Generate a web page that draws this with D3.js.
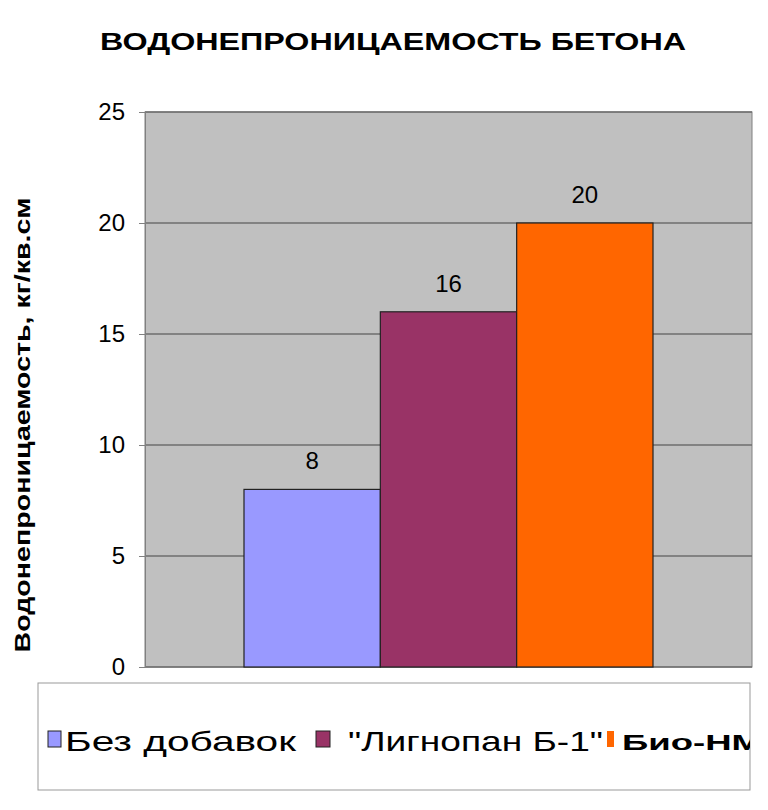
<!DOCTYPE html><html><head><meta charset="utf-8"><script src="https://cdn.jsdelivr.net/npm/d3@7"></script>
<style>body{margin:0;background:#fff}</style></head><body><svg width="768" height="810"></svg>
<script>
const categories=["Без добавок","\"Лигнопан Б-1\"","Био-НМ"];
const values=[8,16,20];
const colors=["#9999ff","#993366","#ff6600"];
const yTicks=[0,5,10,15,20,25];
const svg=d3.select("svg");
const L=145,R=752,T=112,B=667;
const F="Liberation Sans, Arial";
svg.append("text").attr("x",393).attr("y",50).attr("text-anchor","middle").attr("font-family",F).attr("font-weight","bold").attr("font-size",24).attr("textLength",586).attr("lengthAdjust","spacingAndGlyphs").text("ВОДОНЕПРОНИЦАЕМОСТЬ БЕТОНА");
svg.append("rect").attr("x",L).attr("y",T).attr("width",R-L).attr("height",B-T).attr("fill","#c0c0c0").attr("stroke","#808080");
const y=d3.scaleLinear().domain([0,25]).range([B,T]);
const x=d3.scaleBand().domain(categories).range([244,653]);
svg.append("g").selectAll("line").data(yTicks).join("line").attr("x1",L).attr("x2",R).attr("y1",d=>y(d)).attr("y2",d=>y(d)).attr("stroke","#6e6e6e").attr("stroke-width",1.5);
const ax=svg.append("g").attr("transform",`translate(${L},0)`).call(d3.axisLeft(y).tickValues(yTicks).tickSize(6).tickPadding(14));
ax.selectAll("text").attr("font-family",F).attr("font-size",24).attr("fill","#000");
ax.select(".domain").attr("stroke","#808080");ax.selectAll(".tick line").attr("stroke","#808080");
svg.append("g").selectAll("rect").data(values).join("rect").attr("x",(d,i)=>x(categories[i])).attr("width",x.bandwidth()).attr("y",d=>y(d)).attr("height",d=>B-y(d)).attr("fill",(d,i)=>colors[i]).attr("stroke","#222").attr("stroke-width",1.2);
svg.append("g").selectAll("text").data(values).join("text").attr("x",(d,i)=>x(categories[i])+x.bandwidth()/2).attr("y",d=>y(d)-20).attr("text-anchor","middle").attr("font-family",F).attr("font-size",24).text(d=>d);
svg.append("text").attr("transform","translate(30,425) rotate(-90)").attr("text-anchor","middle").attr("font-family",F).attr("font-weight","bold").attr("font-size",22).attr("textLength",455).attr("lengthAdjust","spacingAndGlyphs").text("Водонепроницаемость, кг/кв.см");
const lg=svg.append("g");
lg.append("rect").attr("x",38).attr("y",683).attr("width",712).attr("height",107).attr("fill","#fff").attr("stroke","#999");
svg.append("clipPath").attr("id","c").append("rect").attr("x",38).attr("y",683).attr("width",712).attr("height",107);
const lx=[48,316,607],tx=[65,348,622],sw=[13,14,7],tl=[231,255,140];
categories.forEach((c,i)=>{
 lg.append("rect").attr("x",lx[i]).attr("y",731).attr("width",sw[i]).attr("height",16).attr("fill",colors[i]).attr("stroke",i<2?"#222":"none");
 lg.append("text").attr("clip-path","url(#c)").attr("x",tx[i]).attr("y",i<2?751:750).attr("font-family",F).attr("font-size",i<2?28:22).attr("font-weight",i<2?"normal":"bold").attr("textLength",tl[i]).attr("lengthAdjust","spacingAndGlyphs").text(c);
});
</script></body></html>
